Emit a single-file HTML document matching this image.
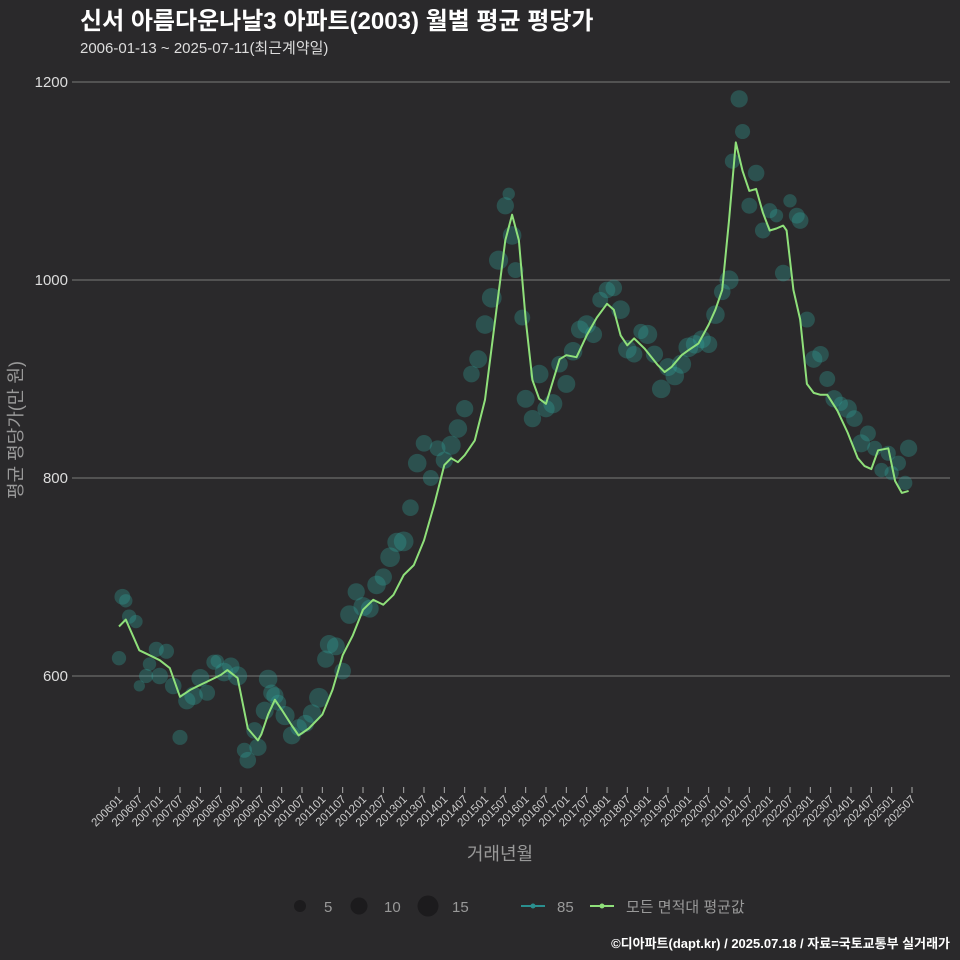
<!DOCTYPE html>
<html><head><meta charset="utf-8">
<style>
html,body{margin:0;padding:0;background:#2a292b;}
svg{display:block;font-family:"Liberation Sans","Noto Sans CJK KR",sans-serif;}
</style></head>
<body>
<svg id="chart" width="960" height="960" viewBox="0 0 960 960">
<rect width="960" height="960" fill="#2a292b"/>
<text x="80" y="29" fill="#fff" font-size="24" font-weight="bold">신서 아름다운나날3 아파트(2003) 월별 평균 평당가</text>
<text x="80" y="53" fill="#ddd" font-size="15">2006-01-13 ~ 2025-07-11(최근계약일)</text>
<g id="grid"></g>
<g id="bubbles"></g>
<g id="lines"></g>
<g id="xaxis"></g>
<text x="500" y="860" fill="#999" font-size="18" text-anchor="middle">거래년월</text>
<text transform="translate(22,430) rotate(-90)" fill="#999" font-size="18" text-anchor="middle">평균 평당가(만 원)</text>
<g>
<circle cx="300" cy="906" r="6" fill="#1c1b1d"/>
<text x="324" y="912" fill="#999" font-size="15">5</text>
<circle cx="359" cy="906" r="8.5" fill="#1c1b1d"/>
<text x="384" y="912" fill="#999" font-size="15">10</text>
<circle cx="428" cy="906" r="10.5" fill="#1c1b1d"/>
<text x="452" y="912" fill="#999" font-size="15">15</text>
<line x1="521" y1="906" x2="545" y2="906" stroke="#2a8f8f" stroke-width="2"/>
<circle cx="533" cy="906" r="2.5" fill="#2a8f8f"/>
<text x="557" y="912" fill="#999" font-size="15">85</text>
<line x1="590" y1="906" x2="614" y2="906" stroke="#8fe07a" stroke-width="2"/>
<circle cx="602" cy="906" r="2.5" fill="#8fe07a"/>
<text x="626" y="912" fill="#999" font-size="15">모든 면적대 평균값</text>
</g>
<text x="950" y="948" fill="#fff" font-size="13" font-weight="bold" text-anchor="end">©디아파트(dapt.kr) / 2025.07.18 / 자료=국토교통부 실거래가</text>
</svg>
<script>
const yTicks = [600, 800, 1000, 1200];
const xTickLabels = [];
for (let yr = 2006; yr <= 2025; yr++) { xTickLabels.push(yr + "01"); xTickLabels.push(yr + "07"); }
// month index (months since 2006-01) and average values
const lineMonths = [0,2,6,9,12,15,18,21,24,27,30,32,35,38,41,42,44,46,48,51,53,56,60,63,66,69,72,75,78,81,84,87,90,93,96,98,100,102,105,108,111,114,116,118,120,122,124,126,130,132,135,138,141,144,146,148,150,152,155,159,161,163,166,168,171,174,176,178,180,182,184,186,188,190,192,194,196,197,199,201,203,205,207,209,212,215,218,220,222,224,227,229,231,233];
const lineValues = [650,657,626,621,616,608,579,586,591,596,601,606,598,547,535,541,561,576,566,550,540,547,561,586,621,641,667,677,672,682,702,712,737,773,813,820,816,823,838,879,960,1040,1066,1040,960,899,880,875,920,924,922,944,962,976,970,944,934,941,931,914,907,912,924,929,936,955,970,990,1060,1139,1110,1090,1092,1068,1050,1052,1055,1050,990,960,895,886,884,884,868,846,820,812,809,828,830,797,785,787];
// scatter bubbles: month, value, count
const bubbleMonths = [0,1,2,3,5,6,8,9,11,12,14,16,18,20,22,24,26,28,29,31,33,35,37,38,40,41,43,44,45,46,47,49,51,53,55,57,59,61,62,64,66,68,70,72,74,76,78,80,82,84,86,88,90,92,94,96,98,100,102,104,106,108,110,112,114,115,116,117,119,120,122,124,126,128,130,132,134,136,138,140,142,144,146,148,150,152,154,156,158,160,162,164,166,168,170,172,174,176,178,180,181,183,184,186,188,190,192,194,196,198,200,201,203,205,207,209,211,213,215,217,219,221,223,225,227,228,230,232,233];
const bubbleValues = [618,680,676,660,655,590,600,612,627,600,625,590,538,575,580,598,583,614,615,604,610,600,525,515,545,528,565,597,583,580,573,560,540,548,552,562,578,617,632,630,605,662,685,670,668,692,700,720,735,736,770,815,835,800,830,818,833,850,870,905,920,955,982,1020,1075,1087,1045,1010,962,880,860,905,870,875,915,895,928,950,955,945,980,990,992,970,930,925,948,945,925,890,912,903,915,932,935,940,935,965,988,1000,1120,1183,1150,1075,1108,1050,1070,1065,1007,1080,1065,1060,960,920,925,900,880,875,870,860,835,845,830,808,825,805,815,795,830,835,775,760,782];
const bubbleCounts = [6,8,5,6,5,3,6,5,7,9,7,9,7,10,12,11,8,7,5,12,10,13,7,9,9,10,11,12,9,10,8,13,11,9,10,12,14,10,12,11,9,12,10,13,11,12,10,14,13,14,9,12,9,8,8,10,13,12,10,9,11,12,14,13,10,4,12,8,8,11,10,12,10,13,9,11,12,11,12,10,8,9,9,12,12,9,7,13,10,12,11,12,13,14,12,11,10,12,9,13,7,10,7,8,9,8,7,5,9,5,8,9,8,10,9,8,10,6,12,9,11,8,7,6,7,6,7,6,10];

const NS = "http://www.w3.org/2000/svg";
const X0 = 119, X1 = 912, NM = 234;
function xScale(m) { return X0 + (X1 - X0) * m / NM; }
function yScale(v) { return 676 - (v - 600) * (198 / 200); }
function rScale(c) { return 2 + Math.sqrt(c) * 2.1; }
function mk(tag, attrs, parent) { const e = document.createElementNS(NS, tag); for (const k in attrs) e.setAttribute(k, attrs[k]); parent.appendChild(e); return e; }

const grid = document.getElementById("grid");
yTicks.forEach(v => {
  const l = mk("line", {x1: 72, x2: 950, y1: yScale(v), y2: yScale(v), stroke: "#7a7a7a", "stroke-width": 1}, grid);
  
  
  const t = mk("text", {x: 68, y: yScale(v) + 5, fill: "#ddd", "font-size": 15, "text-anchor": "end"}, grid);
  t.textContent = v;
  
  
});

const xa = document.getElementById("xaxis");
xTickLabels.forEach((lab, i) => {
  const x = xScale(i * 6);
  const tk = mk("line", {x1: x, x2: x, y1: 787, y2: 793, stroke: "#aaa", "stroke-width": 1}, xa);
  
  
  const t = mk("text", {transform: `translate(${x + 4},800) rotate(-45)`, fill: "#ccc", "font-size": 11.5, "text-anchor": "end"}, xa);
  t.textContent = lab;
  
  
});

const bg = document.getElementById("bubbles");
bubbleMonths.forEach((m, i) => {
  const c = mk("circle", {cx: xScale(m), cy: yScale(bubbleValues[i]), r: rScale(bubbleCounts[i]), fill: "rgba(50,165,155,0.33)"}, bg);
  
  
});

const lg = document.getElementById("lines");
const pts = lineMonths.map((m, i) => xScale(m).toFixed(1) + "," + yScale(lineValues[i]).toFixed(1)).join(" ");
const pl = mk("polyline", {points: pts, fill: "none", stroke: "#8fe07a", "stroke-width": 2, "stroke-linejoin": "round"}, lg);


</script>
</body></html>
